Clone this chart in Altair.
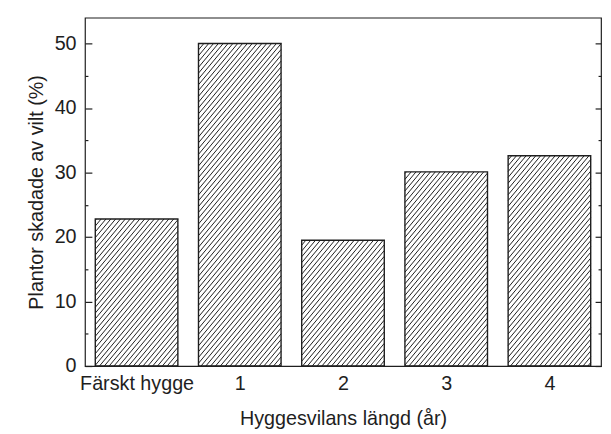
import altair as alt
import numpy as np
import pandas as pd

# ---- data ----
categories = ["Färskt hygge", "1", "2", "3", "4"]
values = [22.8, 50.0, 19.5, 30.1, 32.6]
y_major = [0, 10, 20, 30, 40, 50]
y_minor = [5, 15, 25, 35, 45]

# ---- layout/style constants ----
W, H = 523, 353
Y_MAX = 54
BAR_HALF = 0.4
INK = "#1e1e1e"
FONT = "Liberation Sans"
FS = 20
HATCH_SPACING = 4.9   # px, horizontal distance between hatch lines
HATCH_SLOPE = 1.2     # rise/run in pixels

px_x = W / len(categories)
px_y = H / Y_MAX

pos = list(range(len(categories)))
bars = pd.DataFrame({
    "pos": pos,
    "cat": categories,
    "value": values,
    "x0": [p - BAR_HALF for p in pos],
    "x1": [p + BAR_HALF for p in pos],
})

# hatch segments derived from bar values (decoration inside each bar)
rows = []
bw = 2 * BAR_HALF * px_x
for p, v in zip(pos, values):
    bh = v * px_y
    left_px = (p - BAR_HALF + 0.5) * px_x
    start = -bh / HATCH_SLOPE
    phase = (left_px + start) % HATCH_SPACING
    c = start - phase + HATCH_SPACING
    while c < bw:
        u0 = max(c, 0.0)
        u1 = min(bw, c + bh / HATCH_SLOPE)
        if u1 > u0:
            h0 = HATCH_SLOPE * (u0 - c)
            h1 = HATCH_SLOPE * (u1 - c)
            rows.append({
                "hx": p - BAR_HALF + u0 / px_x,
                "hx2": p - BAR_HALF + u1 / px_x,
                "hy": h0 / px_y,
                "hy2": h1 / px_y,
            })
        c += HATCH_SPACING
hatch_df = pd.DataFrame(rows)

label_expr = "[" + ",".join('"%s"' % c for c in categories) + "][datum.value]"

xscale = alt.Scale(domain=[-0.5, len(categories) - 0.5], nice=False, zero=False)
yscale = alt.Scale(domain=[0, Y_MAX], nice=False, zero=True)

xaxis = alt.Axis(
    values=pos, labelExpr=label_expr, ticks=False, domain=False,
    labelPadding=8, labelFlush=False, labelOverlap=False,
    title="Hyggesvilans längd (år)", titleY=59, titleBaseline="alphabetic",
)

left_major = alt.Axis(
    orient="left", values=y_major, offset=-7, tickSize=7, labelPadding=9,
    title="Plantor skadade av vilt (%)", titleX=-56, titleY=H / 2,
    titleAlign="center", titleBaseline="middle", titleAngle=270,
    labelFlush=False,
)
right_major = alt.Axis(orient="right", values=y_major, offset=-6, tickSize=6,
                       labels=False, title=None)
left_minor = alt.Axis(orient="left", values=y_minor, offset=-3, tickSize=3,
                      labels=False, title=None)
right_minor = alt.Axis(orient="right", values=y_minor, offset=-3, tickSize=3,
                       labels=False, title=None)

hatch = alt.Chart(hatch_df).mark_rule(color=INK, strokeWidth=1.0).encode(
    x=alt.X("hx:Q", scale=xscale, axis=xaxis),
    x2="hx2:Q",
    y=alt.Y("hy:Q", scale=yscale, axis=left_major),
    y2="hy2:Q",
)

bar_layer = alt.Chart(bars).mark_bar(
    fillOpacity=0, stroke=INK, strokeWidth=1.4
).encode(
    x=alt.X("x0:Q", scale=xscale, axis=xaxis),
    x2="x1:Q",
    y=alt.Y("value:Q", scale=yscale, axis=right_major),
    y2=alt.datum(0),
)

minor_l = alt.Chart(bars).mark_point(opacity=0).encode(
    x=alt.X("pos:Q", scale=xscale, axis=xaxis),
    y=alt.Y("value:Q", scale=yscale, axis=left_minor),
)
minor_r = alt.Chart(bars).mark_point(opacity=0).encode(
    x=alt.X("pos:Q", scale=xscale, axis=xaxis),
    y=alt.Y("value:Q", scale=yscale, axis=right_minor),
)

chart = alt.layer(hatch, bar_layer, minor_l, minor_r).resolve_axis(
    y="independent", x="shared"
).properties(
    width=W, height=H,
    autosize=alt.AutoSizeParams(type="none"),
    padding={"left": 78, "top": 7, "right": 2, "bottom": 64},
).configure_view(
    stroke=INK, strokeWidth=1.2
).configure_axis(
    grid=False, domain=False,
    labelFont=FONT, labelFontSize=FS, labelColor=INK,
    titleFont=FONT, titleFontSize=FS, titleColor=INK, titleFontWeight="normal",
    tickColor=INK, tickWidth=1.2,
)

chart.save("out.html", embed_options={"renderer": "svg", "actions": False})
